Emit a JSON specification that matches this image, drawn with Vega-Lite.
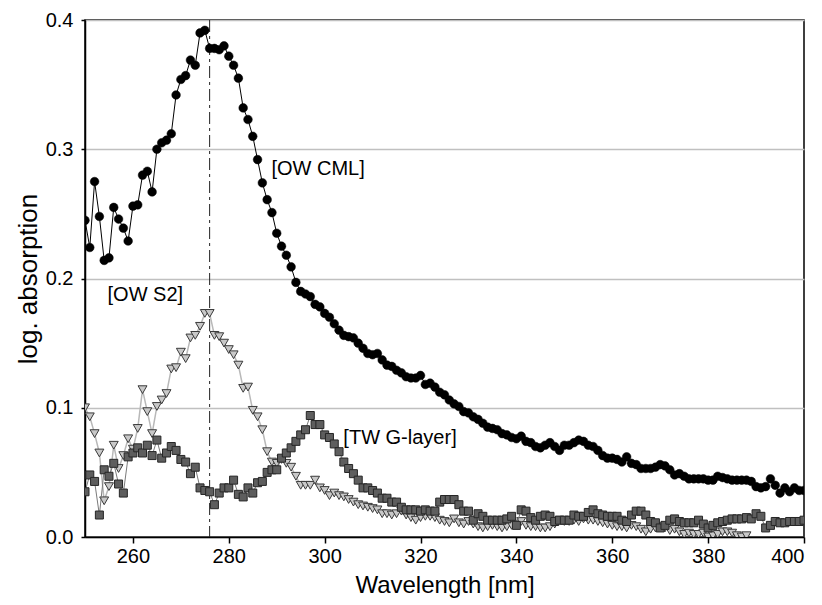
{
  "$schema": "https://vega.github.io/schema/vega-lite/v6.json",
  "width": 719,
  "height": 517,
  "autosize": "none",
  "padding": {"left": 85, "top": 20, "right": 18, "bottom": 68},
  "background": "white",
  "config": {
    "view": {"stroke": "#000000", "strokeWidth": 1.5},
    "font": "Liberation Sans",
    "axis": {
      "domainColor": "#000000", "domainWidth": 1.5,
      "tickColor": "#000000", "tickWidth": 1.5,
      "labelColor": "#000000", "titleColor": "#000000",
      "labelFont": "Liberation Sans", "titleFont": "Liberation Sans",
      "labelFontSize": 20, "titleFontSize": 24, "titleFontWeight": "normal"
    }
  },
  "layer": [
    {
      "data": {"values": [{"wl": 276}]},
      "mark": {"type": "rule", "color": "#222222", "strokeWidth": 1, "strokeDash": [12, 4, 3, 4]},
      "encoding": {
        "x": {"field": "wl", "type": "quantitative", "scale": {"domain": [250, 400], "nice": false},
              "axis": {"values": [260, 280, 300, 320, 340, 360, 380, 400], "format": "d", "title": "Wavelength [nm]", "grid": false, "tickSize": 6, "labelPadding": 3, "titlePadding": 7}}
      }
    },
    {
      "data": {"values": [
        {"wl":250,"a":0.100},{"wl":251,"a":0.093},{"wl":252,"a":0.080},{"wl":253,"a":0.065},{"wl":254,"a":0.028},{"wl":255,"a":0.039},{"wl":256,"a":0.071},{"wl":257,"a":0.053},{"wl":258,"a":0.063},{"wl":259,"a":0.076},
        {"wl":260,"a":0.068},{"wl":261,"a":0.084},{"wl":262,"a":0.114},{"wl":263,"a":0.097},{"wl":264,"a":0.080},{"wl":265,"a":0.101},{"wl":266,"a":0.106},{"wl":267,"a":0.111},{"wl":268,"a":0.130},{"wl":269,"a":0.131},
        {"wl":270,"a":0.143},{"wl":271,"a":0.138},{"wl":272,"a":0.154},{"wl":273,"a":0.156},{"wl":274,"a":0.163},{"wl":275,"a":0.173},{"wl":276,"a":0.173},{"wl":277,"a":0.156},{"wl":278,"a":0.155},{"wl":279,"a":0.150},
        {"wl":280,"a":0.145},{"wl":281,"a":0.141},{"wl":282,"a":0.133},{"wl":283,"a":0.115},{"wl":284,"a":0.116},{"wl":285,"a":0.098},{"wl":286,"a":0.093},{"wl":287,"a":0.083},{"wl":288,"a":0.066},{"wl":289,"a":0.058},
        {"wl":290,"a":0.057},{"wl":291,"a":0.060},{"wl":292,"a":0.057},{"wl":293,"a":0.054},{"wl":294,"a":0.047},{"wl":295,"a":0.040},{"wl":296,"a":0.040},{"wl":297,"a":0.040},{"wl":298,"a":0.044},{"wl":299,"a":0.038},
        {"wl":300,"a":0.036},{"wl":301,"a":0.032},{"wl":302,"a":0.034},{"wl":303,"a":0.032},{"wl":304,"a":0.031},{"wl":305,"a":0.029},{"wl":306,"a":0.027},{"wl":307,"a":0.025},{"wl":308,"a":0.024},{"wl":309,"a":0.023},
        {"wl":310,"a":0.022},{"wl":311,"a":0.021},{"wl":312,"a":0.018},{"wl":313,"a":0.018},{"wl":314,"a":0.017},{"wl":315,"a":0.018},{"wl":316,"a":0.020},{"wl":317,"a":0.017},{"wl":318,"a":0.015},{"wl":319,"a":0.013},
        {"wl":320,"a":0.015},{"wl":321,"a":0.016},{"wl":322,"a":0.016},{"wl":323,"a":0.015},{"wl":324,"a":0.013},{"wl":325,"a":0.012},{"wl":326,"a":0.011},{"wl":327,"a":0.014},{"wl":328,"a":0.011},{"wl":329,"a":0.010},
        {"wl":330,"a":0.012},{"wl":331,"a":0.010},{"wl":332,"a":0.008},{"wl":333,"a":0.007},{"wl":334,"a":0.008},{"wl":335,"a":0.009},{"wl":336,"a":0.008},{"wl":337,"a":0.007},{"wl":338,"a":0.008},{"wl":339,"a":0.009},
        {"wl":340,"a":0.010},{"wl":341,"a":0.012},{"wl":342,"a":0.009},{"wl":343,"a":0.008},{"wl":344,"a":0.008},{"wl":345,"a":0.007},{"wl":346,"a":0.007},{"wl":347,"a":0.008},{"wl":348,"a":0.010},{"wl":349,"a":0.013},
        {"wl":350,"a":0.012},{"wl":351,"a":0.012},{"wl":352,"a":0.013},{"wl":353,"a":0.012},{"wl":354,"a":0.014},{"wl":355,"a":0.013},{"wl":356,"a":0.013},{"wl":357,"a":0.012},{"wl":358,"a":0.011},{"wl":359,"a":0.010},
        {"wl":360,"a":0.009},{"wl":361,"a":0.008},{"wl":362,"a":0.008},{"wl":363,"a":0.007},{"wl":364,"a":0.009},{"wl":365,"a":0.008},{"wl":366,"a":0.006},{"wl":367,"a":0.004},{"wl":368,"a":0.006},{"wl":369,"a":0.007},
        {"wl":370,"a":0.008},{"wl":371,"a":0.007},{"wl":372,"a":0.005},{"wl":373,"a":0.006},{"wl":374,"a":0.004},{"wl":375,"a":0.002},{"wl":376,"a":0.003},{"wl":377,"a":0.002},{"wl":378,"a":0.002},{"wl":379,"a":0.003},
        {"wl":380,"a":0.000},{"wl":381,"a":0.001},{"wl":382,"a":0.002},{"wl":383,"a":0.004},{"wl":384,"a":0.004},{"wl":385,"a":0.003},{"wl":386,"a":0.001},{"wl":387,"a":0.000},{"wl":388,"a":0.001}
      ]},
      "layer": [
        {"mark": {"type": "line", "color": "#b8b8b8", "strokeWidth": 1.5, "clip": true}},
        {"mark": {"type": "point", "shape": "triangle-down", "filled": true, "fill": "#c8c8c8", "stroke": "#3a3a3a", "strokeWidth": 1, "size": 80, "opacity": 1, "clip": true}}
      ],
      "encoding": {
        "x": {"field": "wl", "type": "quantitative", "scale": {"domain": [250, 400], "nice": false},
              "axis": {"values": [260, 280, 300, 320, 340, 360, 380, 400], "format": "d", "title": "Wavelength [nm]", "grid": false, "tickSize": 6, "labelPadding": 3, "titlePadding": 7}},
        "y": {"field": "a", "type": "quantitative", "scale": {"domain": [0, 0.4], "nice": false},
              "axis": {"values": [0, 0.1, 0.2, 0.3, 0.4], "format": ".1f", "title": "log. absorption", "grid": true, "gridColor": "#c0c0c0", "gridWidth": 1.5, "tickSize": 4, "labelPadding": 8, "titlePadding": 4, "titleFontSize": 26}}
      }
    },
    {
      "data": {"values": [
        {"wl":250,"a":0.035},{"wl":251,"a":0.048},{"wl":252,"a":0.043},{"wl":253,"a":0.017},{"wl":254,"a":0.052},{"wl":255,"a":0.047},{"wl":256,"a":0.057},{"wl":257,"a":0.041},{"wl":258,"a":0.034},{"wl":259,"a":0.062},
        {"wl":260,"a":0.065},{"wl":261,"a":0.069},{"wl":262,"a":0.065},{"wl":263,"a":0.071},{"wl":264,"a":0.063},{"wl":265,"a":0.075},{"wl":266,"a":0.061},{"wl":267,"a":0.065},{"wl":268,"a":0.070},{"wl":269,"a":0.067},
        {"wl":270,"a":0.060},{"wl":271,"a":0.058},{"wl":272,"a":0.049},{"wl":273,"a":0.054},{"wl":274,"a":0.038},{"wl":275,"a":0.036},{"wl":276,"a":0.035},{"wl":277,"a":0.025},{"wl":278,"a":0.034},{"wl":279,"a":0.038},
        {"wl":280,"a":0.038},{"wl":281,"a":0.044},{"wl":282,"a":0.033},{"wl":283,"a":0.031},{"wl":284,"a":0.038},{"wl":285,"a":0.034},{"wl":286,"a":0.042},{"wl":287,"a":0.043},{"wl":288,"a":0.050},{"wl":289,"a":0.052},
        {"wl":290,"a":0.052},{"wl":291,"a":0.061},{"wl":292,"a":0.065},{"wl":293,"a":0.069},{"wl":294,"a":0.074},{"wl":295,"a":0.079},{"wl":296,"a":0.083},{"wl":297,"a":0.094},{"wl":298,"a":0.087},{"wl":299,"a":0.087},
        {"wl":300,"a":0.079},{"wl":301,"a":0.077},{"wl":302,"a":0.072},{"wl":303,"a":0.066},{"wl":304,"a":0.058},{"wl":305,"a":0.053},{"wl":306,"a":0.049},{"wl":307,"a":0.044},{"wl":308,"a":0.038},{"wl":309,"a":0.038},
        {"wl":310,"a":0.036},{"wl":311,"a":0.034},{"wl":312,"a":0.030},{"wl":313,"a":0.030},{"wl":314,"a":0.027},{"wl":315,"a":0.027},{"wl":316,"a":0.023},{"wl":317,"a":0.021},{"wl":318,"a":0.021},{"wl":319,"a":0.021},
        {"wl":320,"a":0.020},{"wl":321,"a":0.021},{"wl":322,"a":0.020},{"wl":323,"a":0.020},{"wl":324,"a":0.027},{"wl":325,"a":0.029},{"wl":326,"a":0.029},{"wl":327,"a":0.029},{"wl":328,"a":0.025},{"wl":329,"a":0.020},
        {"wl":330,"a":0.020},{"wl":331,"a":0.013},{"wl":332,"a":0.018},{"wl":333,"a":0.016},{"wl":334,"a":0.013},{"wl":335,"a":0.013},{"wl":336,"a":0.013},{"wl":337,"a":0.013},{"wl":338,"a":0.014},{"wl":339,"a":0.016},
        {"wl":340,"a":0.009},{"wl":341,"a":0.021},{"wl":342,"a":0.020},{"wl":343,"a":0.015},{"wl":344,"a":0.013},{"wl":345,"a":0.016},{"wl":346,"a":0.017},{"wl":347,"a":0.016},{"wl":348,"a":0.012},{"wl":349,"a":0.013},
        {"wl":350,"a":0.013},{"wl":351,"a":0.013},{"wl":352,"a":0.017},{"wl":353,"a":0.016},{"wl":354,"a":0.016},{"wl":355,"a":0.019},{"wl":356,"a":0.021},{"wl":357,"a":0.018},{"wl":358,"a":0.017},{"wl":359,"a":0.016},
        {"wl":360,"a":0.016},{"wl":361,"a":0.016},{"wl":362,"a":0.013},{"wl":363,"a":0.012},{"wl":364,"a":0.017},{"wl":365,"a":0.020},{"wl":366,"a":0.020},{"wl":367,"a":0.017},{"wl":368,"a":0.012},{"wl":369,"a":0.011},
        {"wl":370,"a":0.007},{"wl":371,"a":0.009},{"wl":372,"a":0.013},{"wl":373,"a":0.014},{"wl":374,"a":0.012},{"wl":375,"a":0.011},{"wl":376,"a":0.011},{"wl":377,"a":0.011},{"wl":378,"a":0.013},{"wl":379,"a":0.010},
        {"wl":380,"a":0.007},{"wl":381,"a":0.009},{"wl":382,"a":0.011},{"wl":383,"a":0.012},{"wl":384,"a":0.013},{"wl":385,"a":0.014},{"wl":386,"a":0.014},{"wl":387,"a":0.014},{"wl":388,"a":0.015},{"wl":389,"a":0.014},
        {"wl":390,"a":0.018},{"wl":391,"a":0.016},{"wl":392,"a":0.007},{"wl":393,"a":0.009},{"wl":394,"a":0.012},{"wl":395,"a":0.011},{"wl":396,"a":0.011},{"wl":397,"a":0.012},{"wl":398,"a":0.012},{"wl":399,"a":0.012},
        {"wl":400,"a":0.013}
      ]},
      "layer": [
        {"mark": {"type": "line", "color": "#7a7a7a", "strokeWidth": 1, "clip": true}},
        {"mark": {"type": "point", "shape": "square", "filled": true, "fill": "#5e5e5e", "stroke": "#262626", "strokeWidth": 1, "size": 64, "opacity": 1, "clip": true}}
      ],
      "encoding": {
        "x": {"field": "wl", "type": "quantitative", "scale": {"domain": [250, 400], "nice": false},
              "axis": {"values": [260, 280, 300, 320, 340, 360, 380, 400], "format": "d", "title": "Wavelength [nm]", "grid": false, "tickSize": 6, "labelPadding": 3, "titlePadding": 7}},
        "y": {"field": "a", "type": "quantitative", "scale": {"domain": [0, 0.4], "nice": false},
              "axis": {"values": [0, 0.1, 0.2, 0.3, 0.4], "format": ".1f", "title": "log. absorption", "grid": true, "gridColor": "#c0c0c0", "gridWidth": 1.5, "tickSize": 4, "labelPadding": 8, "titlePadding": 4, "titleFontSize": 26}}
      }
    },
    {
      "data": {"values": [
        {"wl":250,"a":0.245},{"wl":251,"a":0.224},{"wl":252,"a":0.275},{"wl":253,"a":0.248},{"wl":254,"a":0.214},{"wl":255,"a":0.216},{"wl":256,"a":0.255},{"wl":257,"a":0.246},{"wl":258,"a":0.239},{"wl":259,"a":0.229},
        {"wl":260,"a":0.256},{"wl":261,"a":0.257},{"wl":262,"a":0.280},{"wl":263,"a":0.283},{"wl":264,"a":0.267},{"wl":265,"a":0.300},{"wl":266,"a":0.305},{"wl":267,"a":0.307},{"wl":268,"a":0.312},{"wl":269,"a":0.342},
        {"wl":270,"a":0.354},{"wl":271,"a":0.357},{"wl":272,"a":0.369},{"wl":273,"a":0.365},{"wl":274,"a":0.390},{"wl":275,"a":0.392},{"wl":276,"a":0.378},{"wl":277,"a":0.378},{"wl":278,"a":0.377},{"wl":279,"a":0.380},
        {"wl":280,"a":0.372},{"wl":281,"a":0.365},{"wl":282,"a":0.355},{"wl":283,"a":0.332},{"wl":284,"a":0.323},{"wl":285,"a":0.310},{"wl":286,"a":0.292},{"wl":287,"a":0.274},{"wl":288,"a":0.261},{"wl":289,"a":0.251},
        {"wl":290,"a":0.235},{"wl":291,"a":0.225},{"wl":292,"a":0.218},{"wl":293,"a":0.209},{"wl":294,"a":0.197},{"wl":295,"a":0.190},{"wl":296,"a":0.188},{"wl":297,"a":0.186},{"wl":298,"a":0.180},{"wl":299,"a":0.178},
        {"wl":300,"a":0.173},{"wl":301,"a":0.170},{"wl":302,"a":0.165},{"wl":303,"a":0.160},{"wl":304,"a":0.156},{"wl":305,"a":0.155},{"wl":306,"a":0.154},{"wl":307,"a":0.150},{"wl":308,"a":0.146},{"wl":309,"a":0.142},
        {"wl":310,"a":0.141},{"wl":311,"a":0.142},{"wl":312,"a":0.137},{"wl":313,"a":0.133},{"wl":314,"a":0.132},{"wl":315,"a":0.129},{"wl":316,"a":0.127},{"wl":317,"a":0.124},{"wl":318,"a":0.123},{"wl":319,"a":0.123},
        {"wl":320,"a":0.125},{"wl":321,"a":0.118},{"wl":322,"a":0.119},{"wl":323,"a":0.116},{"wl":324,"a":0.112},{"wl":325,"a":0.110},{"wl":326,"a":0.106},{"wl":327,"a":0.103},{"wl":328,"a":0.101},{"wl":329,"a":0.097},
        {"wl":330,"a":0.096},{"wl":331,"a":0.093},{"wl":332,"a":0.091},{"wl":333,"a":0.088},{"wl":334,"a":0.085},{"wl":335,"a":0.084},{"wl":336,"a":0.083},{"wl":337,"a":0.080},{"wl":338,"a":0.079},{"wl":339,"a":0.077},
        {"wl":340,"a":0.076},{"wl":341,"a":0.078},{"wl":342,"a":0.074},{"wl":343,"a":0.073},{"wl":344,"a":0.070},{"wl":345,"a":0.069},{"wl":346,"a":0.071},{"wl":347,"a":0.073},{"wl":348,"a":0.070},{"wl":349,"a":0.067},
        {"wl":350,"a":0.071},{"wl":351,"a":0.071},{"wl":352,"a":0.073},{"wl":353,"a":0.075},{"wl":354,"a":0.074},{"wl":355,"a":0.071},{"wl":356,"a":0.070},{"wl":357,"a":0.067},{"wl":358,"a":0.063},{"wl":359,"a":0.061},
        {"wl":360,"a":0.061},{"wl":361,"a":0.060},{"wl":362,"a":0.058},{"wl":363,"a":0.062},{"wl":364,"a":0.057},{"wl":365,"a":0.056},{"wl":366,"a":0.053},{"wl":367,"a":0.053},{"wl":368,"a":0.053},{"wl":369,"a":0.054},
        {"wl":370,"a":0.056},{"wl":371,"a":0.055},{"wl":372,"a":0.052},{"wl":373,"a":0.048},{"wl":374,"a":0.049},{"wl":375,"a":0.047},{"wl":376,"a":0.045},{"wl":377,"a":0.045},{"wl":378,"a":0.045},{"wl":379,"a":0.045},
        {"wl":380,"a":0.044},{"wl":381,"a":0.044},{"wl":382,"a":0.047},{"wl":383,"a":0.046},{"wl":384,"a":0.045},{"wl":385,"a":0.044},{"wl":386,"a":0.044},{"wl":387,"a":0.044},{"wl":388,"a":0.044},{"wl":389,"a":0.043},
        {"wl":390,"a":0.039},{"wl":391,"a":0.038},{"wl":392,"a":0.039},{"wl":393,"a":0.045},{"wl":394,"a":0.040},{"wl":395,"a":0.034},{"wl":396,"a":0.038},{"wl":397,"a":0.035},{"wl":398,"a":0.038},{"wl":399,"a":0.036},
        {"wl":400,"a":0.036}
      ]},
      "layer": [
        {"mark": {"type": "line", "color": "#000000", "strokeWidth": 1, "clip": true}},
        {"mark": {"type": "point", "shape": "circle", "filled": true, "fill": "#000000", "stroke": "#000000", "strokeWidth": 0.5, "size": 75, "opacity": 1, "clip": true}}
      ],
      "encoding": {
        "x": {"field": "wl", "type": "quantitative", "scale": {"domain": [250, 400], "nice": false},
              "axis": {"values": [260, 280, 300, 320, 340, 360, 380, 400], "format": "d", "title": "Wavelength [nm]", "grid": false, "tickSize": 6, "labelPadding": 3, "titlePadding": 7}},
        "y": {"field": "a", "type": "quantitative", "scale": {"domain": [0, 0.4], "nice": false},
              "axis": {"values": [0, 0.1, 0.2, 0.3, 0.4], "format": ".1f", "title": "log. absorption", "grid": true, "gridColor": "#c0c0c0", "gridWidth": 1.5, "tickSize": 4, "labelPadding": 8, "titlePadding": 4, "titleFontSize": 26}}
      }
    },
    {
      "data": {"values": [
        {"wl": 288.9, "a": 0.285, "label": "[OW CML]"},
        {"wl": 254.7, "a": 0.187, "label": "[OW S2]"},
        {"wl": 303.9, "a": 0.0765, "label": "[TW G-layer]"}
      ]},
      "mark": {"type": "text", "align": "left", "baseline": "middle", "fontSize": 20, "font": "Liberation Sans", "color": "#000000"},
      "encoding": {
        "x": {"field": "wl", "type": "quantitative", "scale": {"domain": [250, 400], "nice": false},
              "axis": {"values": [260, 280, 300, 320, 340, 360, 380, 400], "format": "d", "title": "Wavelength [nm]", "grid": false, "tickSize": 6, "labelPadding": 3, "titlePadding": 7}},
        "y": {"field": "a", "type": "quantitative", "scale": {"domain": [0, 0.4], "nice": false},
              "axis": {"values": [0, 0.1, 0.2, 0.3, 0.4], "format": ".1f", "title": "log. absorption", "grid": true, "gridColor": "#c0c0c0", "gridWidth": 1.5, "tickSize": 4, "labelPadding": 8, "titlePadding": 4, "titleFontSize": 26}},
        "text": {"field": "label"}
      }
    }
  ]
}
